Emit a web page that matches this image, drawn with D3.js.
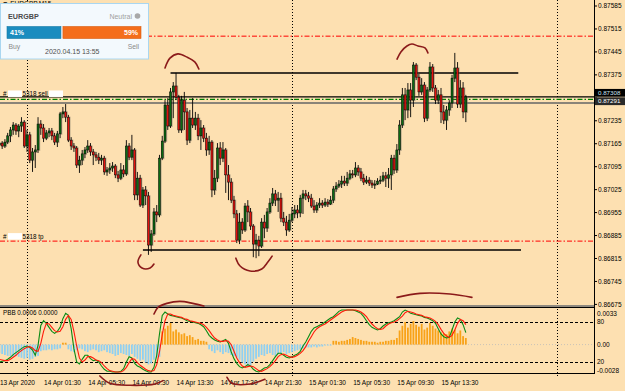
<!DOCTYPE html>
<html>
<head>
<meta charset="utf-8">
<script src="https://cdn.jsdelivr.net/npm/d3@7"></script>
<style>
  html, body { margin: 0; padding: 0; background: #fde0b1; }
  svg { display: block; font-family: "Liberation Sans", Arial, sans-serif; }
</style>
</head>
<body>
<svg id="chart" width="625" height="391"></svg>
<script>
// EURGBP M15, 13 Apr 21:30 -> 15 Apr, one value per bar
const firstBar = new Date(Date.UTC(2020, 3, 13, 21, 30))
const barMinutes = 15

const opens = [
  0.87161,0.87167,0.87158,0.87170,0.87189,0.87207,0.87222,0.87204,0.87219,0.87231,
  0.87158,0.87192,0.87115,0.87140,0.87146,0.87225,0.87213,0.87182,0.87198,0.87204,
  0.87189,0.87170,0.87195,0.87256,0.87262,0.87246,0.87176,0.87158,0.87152,0.87100,
  0.87115,0.87134,0.87146,0.87158,0.87140,0.87131,0.87124,0.87115,0.87121,0.87079,
  0.87085,0.87091,0.87097,0.87070,0.87060,0.87085,0.87073,0.87158,0.87124,0.87146,
  0.87009,0.87060,0.86978,0.87024,0.87006,0.86856,0.86890,0.86957,0.86948,0.87121,
  0.87173,0.87283,0.87219,0.87323,0.87341,0.87307,0.87207,0.87298,0.87262,0.87176,
  0.87243,0.87222,0.87243,0.87189,0.87213,0.87182,0.87146,0.87170,0.87024,0.87060,
  0.87152,0.87121,0.87146,0.87070,0.87048,0.86993,0.86951,0.86871,0.86926,0.86902,
  0.86975,0.86957,0.86914,0.86859,0.86871,0.86853,0.86926,0.86908,0.86957,0.86984,
  0.87012,0.86993,0.86999,0.86938,0.86926,0.86902,0.86932,0.86951,0.86963,0.86954,
  0.86999,0.87012,0.87006,0.86999,0.86975,0.86963,0.86978,0.86984,0.86978,0.86987,
  0.86981,0.86993,0.87027,0.87036,0.87042,0.87051,0.87045,0.87060,0.87073,0.87070,
  0.87091,0.87079,0.87060,0.87048,0.87054,0.87045,0.87039,0.87042,0.87051,0.87054,
  0.87067,0.87060,0.87070,0.87121,0.87085,0.87146,0.87222,0.87314,0.87268,0.87329,
  0.87298,0.87405,0.87368,0.87323,0.87344,0.87243,0.87329,0.87399,0.87335,0.87298,
  0.87314,0.87262,0.87237,0.87268,0.87289,0.87365,0.87396,0.87286,0.87335,0.87262
]
const highs = [
  0.87176,0.87173,0.87179,0.87198,0.87216,0.87231,0.87228,0.87225,0.87246,0.87237,
  0.87207,0.87201,0.87152,0.87161,0.87246,0.87237,0.87225,0.87207,0.87213,0.87213,
  0.87198,0.87204,0.87262,0.87277,0.87286,0.87253,0.87185,0.87167,0.87158,0.87128,
  0.87146,0.87155,0.87176,0.87167,0.87149,0.87140,0.87137,0.87131,0.87128,0.87094,
  0.87106,0.87109,0.87103,0.87082,0.87106,0.87100,0.87176,0.87167,0.87192,0.87152,
  0.87079,0.87070,0.87033,0.87036,0.87018,0.86902,0.86969,0.86978,0.87131,0.87189,
  0.87298,0.87304,0.87335,0.87353,0.87381,0.87314,0.87311,0.87323,0.87274,0.87268,
  0.87304,0.87262,0.87256,0.87237,0.87222,0.87198,0.87189,0.87176,0.87085,0.87167,
  0.87170,0.87170,0.87152,0.87100,0.87060,0.87006,0.86963,0.86954,0.86938,0.86984,
  0.86993,0.86969,0.86920,0.86890,0.86884,0.86938,0.86948,0.86969,0.86999,0.87030,
  0.87024,0.87018,0.87015,0.86957,0.86945,0.86951,0.86972,0.86978,0.86978,0.87009,
  0.87024,0.87024,0.87018,0.87012,0.86993,0.86987,0.86999,0.86993,0.86999,0.86996,
  0.87006,0.87036,0.87048,0.87054,0.87067,0.87067,0.87079,0.87085,0.87085,0.87109,
  0.87100,0.87091,0.87073,0.87067,0.87063,0.87054,0.87054,0.87060,0.87067,0.87079,
  0.87079,0.87091,0.87131,0.87131,0.87164,0.87237,0.87335,0.87335,0.87350,0.87350,
  0.87414,0.87411,0.87378,0.87365,0.87353,0.87338,0.87414,0.87408,0.87344,0.87329,
  0.87335,0.87283,0.87280,0.87298,0.87375,0.87442,0.87414,0.87359,0.87353,0.87314
]
const lows = [
  0.87152,0.87149,0.87152,0.87164,0.87170,0.87192,0.87192,0.87185,0.87201,0.87152,
  0.87140,0.87106,0.87079,0.87091,0.87137,0.87192,0.87170,0.87176,0.87185,0.87176,
  0.87161,0.87155,0.87182,0.87243,0.87231,0.87170,0.87146,0.87140,0.87091,0.87076,
  0.87100,0.87121,0.87137,0.87128,0.87100,0.87112,0.87103,0.87100,0.87070,0.87067,
  0.87073,0.87079,0.87060,0.87048,0.87054,0.87063,0.87067,0.87115,0.87115,0.86993,
  0.86993,0.86972,0.86969,0.86978,0.86826,0.86835,0.86884,0.86926,0.86941,0.87115,
  0.87167,0.87207,0.87213,0.87243,0.87298,0.87198,0.87198,0.87207,0.87161,0.87167,
  0.87213,0.87207,0.87176,0.87146,0.87170,0.87128,0.87131,0.87002,0.87009,0.87048,
  0.87100,0.87109,0.87015,0.86993,0.86984,0.86938,0.86862,0.86859,0.86890,0.86896,
  0.86926,0.86902,0.86819,0.86816,0.86822,0.86847,0.86877,0.86896,0.86951,0.86975,
  0.86975,0.86957,0.86926,0.86914,0.86884,0.86896,0.86926,0.86938,0.86938,0.86941,
  0.86951,0.86993,0.86987,0.86969,0.86954,0.86954,0.86969,0.86969,0.86972,0.86972,
  0.86978,0.86984,0.87018,0.87030,0.87030,0.87036,0.87036,0.87054,0.87060,0.87063,
  0.87067,0.87051,0.87039,0.87042,0.87036,0.87030,0.87027,0.87039,0.87042,0.87048,
  0.87033,0.87030,0.87024,0.87073,0.87076,0.87131,0.87213,0.87237,0.87243,0.87246,
  0.87277,0.87359,0.87311,0.87314,0.87231,0.87234,0.87323,0.87323,0.87286,0.87286,
  0.87228,0.87225,0.87207,0.87250,0.87274,0.87353,0.87274,0.87274,0.87243,0.87231
]
const closes = [
  0.87167,0.87158,0.87170,0.87189,0.87207,0.87222,0.87204,0.87219,0.87231,0.87158,
  0.87192,0.87115,0.87140,0.87146,0.87225,0.87213,0.87182,0.87198,0.87204,0.87189,
  0.87170,0.87195,0.87256,0.87262,0.87246,0.87176,0.87158,0.87152,0.87100,0.87115,
  0.87134,0.87146,0.87158,0.87140,0.87131,0.87124,0.87115,0.87121,0.87079,0.87085,
  0.87091,0.87097,0.87070,0.87060,0.87085,0.87073,0.87158,0.87124,0.87146,0.87009,
  0.87060,0.86978,0.87024,0.87006,0.86856,0.86890,0.86957,0.86948,0.87121,0.87173,
  0.87283,0.87219,0.87323,0.87341,0.87307,0.87207,0.87298,0.87262,0.87176,0.87243,
  0.87222,0.87243,0.87189,0.87213,0.87182,0.87146,0.87170,0.87024,0.87060,0.87152,
  0.87121,0.87146,0.87070,0.87048,0.86993,0.86951,0.86871,0.86926,0.86902,0.86975,
  0.86957,0.86914,0.86859,0.86871,0.86853,0.86926,0.86908,0.86957,0.86984,0.87012,
  0.86993,0.86999,0.86938,0.86926,0.86902,0.86932,0.86951,0.86963,0.86954,0.86999,
  0.87012,0.87006,0.86999,0.86975,0.86963,0.86978,0.86984,0.86978,0.86987,0.86981,
  0.86993,0.87027,0.87036,0.87042,0.87051,0.87045,0.87060,0.87073,0.87070,0.87091,
  0.87079,0.87060,0.87048,0.87054,0.87045,0.87039,0.87042,0.87051,0.87054,0.87067,
  0.87060,0.87070,0.87121,0.87085,0.87146,0.87222,0.87314,0.87268,0.87329,0.87298,
  0.87405,0.87368,0.87323,0.87344,0.87243,0.87329,0.87399,0.87335,0.87298,0.87314,
  0.87262,0.87237,0.87268,0.87289,0.87365,0.87396,0.87286,0.87335,0.87262,0.87308
]

// PBB indicator: histogram + two oscillator lines (0..100)
const pbbHist = [
  -0.0009,-0.0010,-0.0011,-0.0012,-0.0012,-0.0013,-0.0012,-0.0013,-0.0014,-0.0015,
  -0.0014,-0.0016,-0.0015,-0.0013,-0.0012,-0.0007,-0.0006,-0.0006,-0.0005,-0.0006,
  -0.0005,-0.0005,-0.0004,0.0002,0.0002,-0.0005,-0.0007,-0.0008,-0.0006,-0.0004,
  -0.0005,-0.0007,-0.0008,-0.0006,-0.0005,-0.0006,-0.0008,-0.0007,-0.0006,-0.0008,
  -0.0009,-0.0010,-0.0012,-0.0011,-0.0009,-0.0010,-0.0011,-0.0012,-0.0010,-0.0013,
  -0.0015,-0.0017,-0.0016,-0.0019,-0.0021,-0.0020,-0.0016,-0.0014,-0.0013,0.0014,
  0.0017,0.0020,0.0023,0.0014,0.0016,0.0013,0.0011,0.0012,0.0009,0.0010,
  0.0008,0.0005,0.0006,0.0004,0.0004,0.0003,-0.0005,-0.0007,-0.0009,-0.0006,
  -0.0008,-0.0010,-0.0008,-0.0009,-0.0011,-0.0012,-0.0014,-0.0016,-0.0019,-0.0021,
  -0.0023,-0.0022,-0.0018,-0.0015,-0.0013,-0.0011,-0.0012,-0.0010,-0.0009,-0.0011,
  -0.0012,-0.0010,-0.0009,-0.0008,-0.0010,-0.0009,-0.0008,-0.0007,-0.0006,-0.0005,
  -0.0004,-0.0003,-0.0003,-0.0003,-0.0002,-0.0003,-0.0002,-0.0002,-0.0001,-0.0001,
  -0.0001,0.0004,0.0004,0.0003,0.0004,0.0004,0.0005,0.0006,0.0008,0.0007,
  0.0006,0.0005,0.0004,0.0004,0.0003,0.0003,0.0003,0.0002,0.0003,0.0003,
  0.0004,0.0004,0.0005,0.0005,0.0007,0.0015,0.0020,0.0024,0.0018,0.0022,
  0.0025,0.0021,0.0019,0.0022,0.0016,0.0018,0.0023,0.0020,0.0017,0.0015,
  0.0013,0.0012,0.0011,0.0014,0.0017,0.0016,0.0012,0.0015,0.0009,0.0007
]
const pbbFast = [
  20,21,22,24,27,31,34,37,40,43, 44,42,38,30,45,75,82,78,72,66,
  63,66,72,85,93,90,70,40,20,17, 24,30,30,25,22,23,20,14,9,6,
  6,5,5,5,6,10,20,28,26,18, 14,12,9,7,5,5,12,30,62,90,
  95,92,90,89,88,87,86,84,82,81, 80,79,78,76,73,67,60,56,53,51,
  50,52,54,48,35,25,18,13,11,13, 16,14,9,6,5,8,11,12,16,22,
  28,33,33,30,27,26,28,30,32,36, 44,50,58,66,71,73,75,77,80,83,
  86,88,92,96,98,98,98,98,98,97, 95,93,88,82,76,72,70,68,70,74,
  77,79,80,82,85,88,95,98,96,93, 92,91,90,89,87,86,84,82,78,70,
  62,58,56,57,68,80,86,84,76,64
]
const pbbSlow = [
  24,23,22,22,24,27,30,34,37,40, 42,43,41,37,36,48,66,78,77,72,
  67,65,66,73,84,90,84,66,44,26, 20,23,28,28,26,23,22,19,14,10,
  7,6,5,5,5,7,12,19,25,24, 19,15,12,9,7,6,7,16,35,61,
  82,92,92,90,89,88,87,85,84,82, 81,80,79,78,76,72,67,61,56,53,
  51,51,52,51,46,36,26,19,14,12, 13,14,13,10,7,6,8,10,13,17,
  22,28,31,32,30,28,27,28,30,33, 37,43,51,58,65,70,73,75,77,80,
  83,86,89,92,95,97,98,98,98,98, 97,95,92,88,82,77,73,70,69,70,
  74,77,79,80,82,85,89,94,96,95, 94,92,91,90,88,87,86,84,81,76,
  69,63,59,57,60,68,78,84,82,76
]

const priceTicks = [0.87585,0.87515,0.87445,0.87375,0.87305,0.87235,0.87165,0.87095,0.87025,0.86955,0.86885,0.86815,0.86745,0.86675]
const pbbTicks = [
  { label: "0.0033", hist: 0.0033 },
  { label: "80", osc: 80 },
  { label: "0.00", hist: 0 },
  { label: "20", osc: 20 },
  { label: "-0.0028", hist: -0.0028 }
]
const timeTickHours = [0, 4, 8, 12, 16, 20, 24, 28, 32, 36, 40]   // hours after the first bar
const daySeparators = ["2020-04-14", "2020-04-15", "2020-04-16"]

const bidPrice = 0.87308
const linePrice = 0.87291
const order = { ticket: "5318", side: "sell", open: 0.87303, sl: 0.87493, tp: 0.86868 }
const levels = [
  { price: 0.87381, from: "2020-04-14T13:00Z", to: "2020-04-15T20:30Z" },
  { price: 0.86841, from: "2020-04-14T10:30Z", to: "2020-04-15T20:45Z" }
]
const sentiment = { symbol: "EURGBP", mood: "Neutral", buy: 41, sell: 59, stamp: "2020.04.15 13:55" }

// hand drawn marks: [bar index, price] in the price pane, [bar index, oscillator] in the lower pane
const sketchPrice = [
  [[60.0,0.87396],[61.8,0.87426],[64.7,0.87439],[68.0,0.87429],[70.9,0.87414],[72.3,0.87393]],
  [[144.1,0.87423],[145.5,0.87445],[147.7,0.87463],[149.5,0.87469],[151.7,0.87463],[154.2,0.87457],[155.3,0.87442]],
  [[51.3,0.86826],[50.2,0.86804],[51.7,0.86786],[54.6,0.86786],[56.0,0.86798]],
  [[85.7,0.86816],[87.2,0.86792],[90.8,0.86777],[95.1,0.86783],[97.3,0.86804],[98.8,0.86822]]
]
const sketchOsc = [
  [[56,92],[57.5,102],[60.7,108],[65.4,111],[70.1,108],[74.1,104]],
  [[36.4,-1],[40.1,-12],[47.3,-15],[56.4,-13],[59.3,-8]],
  [[82.5,-3],[84.3,-12],[90.8,-13],[96.2,-6]],
  [[144.1,117],[152.4,123],[163.3,122],[171.2,117]]
]

const svg = d3.select("#chart")
const W = 625, H = 391
const axisX = 594
const mainBottom = 305
const subTop = 308, subBottom = 373

const barTime = i => d3.utcMinute.offset(firstBar, i * barMinutes)
const x = d3.scaleUtc()
  .domain([firstBar, d3.utcHour.offset(firstBar, 54)])
  .range([-0.6, 595.56])
const yP = d3.scaleLinear().domain([0.86675, 0.87585]).range([304.4, 6])
const yH = d3.scaleLinear().domain([-0.0028, 0.0033]).range([371, 313.5])
const yO = d3.scaleLinear().domain([0, 100]).range([375.3, 308.7])
const xi = i => x(barTime(i))

svg.append("rect").attr("width", W).attr("height", H).attr("fill", "#fde0b1")

const defs = svg.append("defs")
defs.append("clipPath").attr("id", "clipMain")
  .append("rect").attr("x", 0).attr("y", 0).attr("width", axisX).attr("height", mainBottom)
defs.append("clipPath").attr("id", "clipSub")
  .append("rect").attr("x", 0).attr("y", subTop).attr("width", axisX).attr("height", subBottom - subTop)

// day separators
svg.append("g").selectAll("line")
  .data(daySeparators)
  .enter().append("line")
  .attr("x1", d => Math.round(x(new Date(d + "T00:00Z"))) + 0.5)
  .attr("x2", d => Math.round(x(new Date(d + "T00:00Z"))) + 0.5)
  .attr("y1", 0).attr("y2", subBottom + 4)
  .attr("stroke", "#000").attr("stroke-width", 1).attr("stroke-dasharray", "1,2")

const main = svg.append("g").attr("clip-path", "url(#clipMain)")

function hline(g, y, color, width, dash) {
  g.append("line")
    .attr("x1", 0).attr("x2", axisX)
    .attr("y1", y).attr("y2", y)
    .attr("stroke", color).attr("stroke-width", width)
    .attr("stroke-dasharray", dash || null)
}

// order lines, bid line
hline(main, yP(order.sl), "#ff0000", 1, "5,2,1.5,2")
hline(main, yP(order.tp), "#ff0000", 1, "5,2,1.5,2")
hline(main, yP(linePrice) + 0.5, "#8a8478", 2)
hline(main, yP(bidPrice), "#000", 1.2)
hline(main, yP(order.open) + 1, "#008000", 1.2, "5,2,1.5,2")

// support / resistance lines
main.append("g").selectAll("line")
  .data(levels)
  .enter().append("line")
  .attr("x1", d => x(new Date(d.from))).attr("x2", d => x(new Date(d.to)))
  .attr("y1", d => yP(d.price)).attr("y2", d => yP(d.price))
  .attr("stroke", "#000").attr("stroke-width", 1.5)

// candles
const idx = d3.range(closes.length)
const candle = main.append("g").selectAll("g")
  .data(idx)
  .enter().append("g")

candle.append("rect")
  .attr("x", i => xi(i) + 0.6)
  .attr("y", i => yP(Math.max(opens[i], closes[i])) - 0.5)
  .attr("width", 1.6)
  .attr("height", i => Math.abs(yP(opens[i]) - yP(closes[i])) + 1.5)
  .attr("fill", "#7d7565").attr("opacity", 0.45)

candle.append("line")
  .attr("x1", i => xi(i)).attr("x2", i => xi(i))
  .attr("y1", i => yP(highs[i])).attr("y2", i => yP(lows[i]))
  .attr("stroke", "#000").attr("stroke-width", 0.9)

candle.append("rect")
  .attr("x", i => xi(i) - 1)
  .attr("y", i => yP(Math.max(opens[i], closes[i])))
  .attr("width", 2)
  .attr("height", i => Math.max(1, Math.abs(yP(opens[i]) - yP(closes[i]))))
  .attr("fill", i => closes[i] >= opens[i] ? "#0b6b12" : "#e3130e")
  .attr("stroke", "#000").attr("stroke-width", 0.5)

// order labels
function orderLabel(price, text, boxes) {
  const y = yP(price) - 2.5
  const g = svg.append("g").attr("font-size", 6.3).attr("fill", "#000")
  g.append("text").attr("x", 3).attr("y", y).text("#")
  g.append("rect").attr("x", 8).attr("y", y - 5.5).attr("width", 14).attr("height", 6.5).attr("fill", "#fff")
  g.append("text").attr("x", 22.5).attr("y", y).text(text)
  if (boxes > 1) g.append("rect").attr("x", 49).attr("y", y - 5.5).attr("width", 14).attr("height", 6.5).attr("fill", "#fff")
}
orderLabel(order.open, order.ticket + " sell", 2)
orderLabel(order.tp, order.ticket + " tp", 1)

// pane frames
svg.append("rect").attr("x", 0).attr("y", mainBottom).attr("width", axisX).attr("height", 2).attr("fill", "#8f8a80")
hline(svg, subTop - 0.5, "#000", 1)
hline(svg, subBottom + 0.5, "#000", 1)
svg.append("line").attr("x1", axisX + 0.5).attr("x2", axisX + 0.5).attr("y1", 0).attr("y2", subBottom + 1)
  .attr("stroke", "#000").attr("stroke-width", 1)

// PBB pane
const sub = svg.append("g").attr("clip-path", "url(#clipSub)")
hline(sub, Math.round(yO(80)) + 0.5, "#000", 1, "3,2")
hline(sub, Math.round(yO(20)) + 0.5, "#000", 1, "3,2")
hline(sub, yH(0), "#c9c3b8", 1, "1,2")

sub.append("g").selectAll("rect")
  .data(idx)
  .enter().append("rect")
  .attr("x", i => xi(i) - 0.9)
  .attr("width", 1.8)
  .attr("y", i => Math.min(yH(0), yH(pbbHist[i])))
  .attr("height", i => Math.abs(yH(pbbHist[i]) - yH(0)))
  .attr("fill", i => pbbHist[i] >= 0 ? "#f8a218" : "#8fd0f2")

const oscLine = arr => d3.line().x(i => xi(i)).y(i => yO(arr[i]))
sub.append("path").datum(idx).attr("d", oscLine(pbbFast))
  .attr("fill", "none").attr("stroke", "#0a8a14").attr("stroke-width", 1.1)
sub.append("path").datum(idx).attr("d", oscLine(pbbSlow))
  .attr("fill", "none").attr("stroke", "#ff1a0a").attr("stroke-width", 1.1)

svg.append("text").attr("x", 3).attr("y", 315).attr("font-size", 6.3).attr("fill", "#000")
  .text("PBB  0.0006 0.0000")

// current price tags on the right axis
const tags = [
  { price: bidPrice, dy: -4, bg: "#000", fg: "#cfe6f5" },
  { price: linePrice, dy: -1.2, bg: "#2a2a2a", fg: "#fff" }
]

// right price axis (tick labels hidden under the price tags are not drawn, as in the terminal)
const axisR = svg.append("g").attr("font-size", 6.5).attr("fill", "#000")
priceTicks.forEach(p => {
  const y = yP(p)
  axisR.append("line").attr("x1", axisX).attr("x2", axisX + 3).attr("y1", y).attr("y2", y).attr("stroke", "#000")
  const covered = tags.some(t => Math.abs(yP(t.price) + t.dy - y) < 7)
  if (!covered) axisR.append("text").attr("x", axisX + 4).attr("y", y).attr("dy", "0.35em").text(p.toFixed(5))
})
pbbTicks.forEach(t => {
  const y = t.hist !== undefined ? yH(t.hist) : yO(t.osc)
  axisR.append("text").attr("x", axisX + 3).attr("y", Math.max(y, 312)).attr("dy", "0.35em").text(t.label)
})

tags.forEach(t => {
  const y = yP(t.price) + t.dy
  svg.append("rect").attr("x", axisX + 1).attr("y", y - 3.9).attr("width", W - axisX - 1).attr("height", 7.8).attr("fill", t.bg)
  svg.append("text").attr("x", axisX + 4).attr("y", y).attr("dy", "0.34em").attr("font-size", 6.2)
    .attr("fill", t.fg).text(t.price.toFixed(5))
})

// time axis
const fmt = d3.utcFormat("%d %b %H:%M")
svg.append("g").selectAll("text")
  .data(timeTickHours)
  .enter().append("text")
  .attr("x", h => x(d3.utcHour.offset(firstBar, h)) + 0.5)
  .attr("y", 384.5)
  .attr("font-size", 6.5).attr("fill", "#000")
  .text((h, k) => k === 0 ? "13 Apr 2020" : fmt(d3.utcHour.offset(firstBar, h)))

// hand drawn marks
const sketchColor = "#8b1a1a"
const sketchP = d3.line().curve(d3.curveCatmullRom).x(d => xi(d[0])).y(d => yP(d[1]))
const sketchO = d3.line().curve(d3.curveCatmullRom).x(d => xi(d[0])).y(d => yO(d[1]))
sketchPrice.forEach(pts => svg.append("path").attr("d", sketchP(pts))
  .attr("fill", "none").attr("stroke", sketchColor).attr("stroke-width", 1.6).attr("stroke-linecap", "round"))
sketchOsc.forEach(pts => svg.append("path").attr("d", sketchO(pts))
  .attr("fill", "none").attr("stroke", sketchColor).attr("stroke-width", 1.6).attr("stroke-linecap", "round"))

// title (mostly hidden behind the sentiment box)
svg.append("text").attr("x", 2).attr("y", 6).attr("font-size", 6.5).attr("fill", "#000").text("\u25BC EURGBP,M15")

// sentiment box
const box = svg.append("g")
box.append("rect").attr("x", 0.5).attr("y", 3.5).attr("width", 148).attr("height", 55.5)
  .attr("fill", "#f3f9fd").attr("stroke", "#a9d6f0")
box.append("text").attr("x", 8).attr("y", 18.5).attr("font-size", 7.2).attr("font-weight", "bold")
  .attr("fill", "#4a4a4a").text(sentiment.symbol)
box.append("text").attr("x", 132).attr("y", 18.5).attr("font-size", 7).attr("text-anchor", "end")
  .attr("fill", "#a0a0a0").text(sentiment.mood)
box.append("circle").attr("cx", 137.5).attr("cy", 16).attr("r", 2.8).attr("fill", "#a8a8a8")

const share = d3.scaleLinear().domain([0, 100]).range([7, 141])
box.append("rect").attr("x", share(0)).attr("y", 26.5).attr("width", share(sentiment.buy) - share(0) - 1).attr("height", 12)
  .attr("fill", "#1a8cbf").attr("stroke", "#167aa6").attr("stroke-width", 0.6)
box.append("rect").attr("x", share(sentiment.buy) + 1).attr("y", 26.5).attr("width", share(100) - share(sentiment.buy) - 1).attr("height", 12)
  .attr("fill", "#f46d1b").attr("stroke", "#d95c10").attr("stroke-width", 0.6)
box.append("text").attr("x", 10).attr("y", 35.2).attr("font-size", 7).attr("font-weight", "bold")
  .attr("fill", "#fff").text(sentiment.buy + "%")
box.append("text").attr("x", 138).attr("y", 35.2).attr("font-size", 7).attr("font-weight", "bold")
  .attr("text-anchor", "end").attr("fill", "#fff").text(sentiment.sell + "%")
box.append("text").attr("x", 8.5).attr("y", 48.5).attr("font-size", 6.8).attr("fill", "#8a8a8a").text("Buy")
box.append("text").attr("x", 139).attr("y", 48.5).attr("font-size", 6.8).attr("text-anchor", "end")
  .attr("fill", "#8a8a8a").text("Sell")
box.append("text").attr("x", 45).attr("y", 53.5).attr("font-size", 7).attr("fill", "#505050").text(sentiment.stamp)
</script>
</body>
</html>
